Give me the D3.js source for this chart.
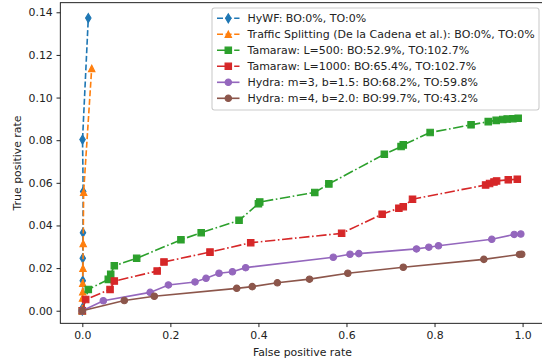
<!DOCTYPE html>
<html>
<head>
<meta charset="utf-8">
<script src="https://cdn.jsdelivr.net/npm/d3@7"></script>
<style>
  body { margin: 0; background: #fff; }
  svg { display: block; font-family: "DejaVu Sans", sans-serif; }
</style>
</head>
<body>
<svg id="chart" width="542" height="360"></svg>
<script>
// series values (x = false positive rate, y = true positive rate)
const hywfX = [0, 0.0005, 0.001, 0.001, 0.0015, 0.002, 0.0005, 0.0136];
const hywfY = [0, 0.0013, 0.0141, 0.0246, 0.0366, 0.0559, 0.0803, 0.1373];

const splitX = [0, 0.0005, 0.001, 0.001, 0.0015, 0.002, 0.003, 0.0213];
const splitY = [0, 0.0060, 0.0089, 0.0129, 0.0199, 0.0316, 0.0556, 0.1137];

const tam500X = [0, 0.0136, 0.059, 0.0645, 0.0727, 0.1235, 0.224, 0.27, 0.356, 0.40, 0.403, 0.528, 0.560, 0.686, 0.724, 0.729, 0.790, 0.883, 0.922, 0.94, 0.955, 0.965, 0.978, 0.99];
const tam500Y = [0, 0.0100, 0.0147, 0.0171, 0.0211, 0.0246, 0.0333, 0.0366, 0.0424, 0.0502, 0.0510, 0.0555, 0.0595, 0.0734, 0.0770, 0.0778, 0.0836, 0.0872, 0.0887, 0.0893, 0.0897, 0.0899, 0.0901, 0.0903];

const tam1000X = [0, 0.0077, 0.063, 0.0727, 0.170, 0.1855, 0.29, 0.3825, 0.589, 0.681, 0.719, 0.729, 0.750, 0.916, 0.925, 0.935, 0.941, 0.9675, 0.988];
const tam1000Y = [0, 0.0053, 0.0100, 0.0139, 0.0186, 0.0229, 0.0275, 0.0319, 0.0363, 0.0453, 0.0481, 0.0488, 0.0523, 0.0590, 0.0597, 0.0604, 0.0609, 0.0614, 0.0617];

const hydra3X = [0, 0.0477, 0.154, 0.1955, 0.256, 0.281, 0.3105, 0.341, 0.371, 0.570, 0.608, 0.628, 0.759, 0.787, 0.809, 0.930, 0.981, 0.996];
const hydra3Y = [0, 0.0047, 0.0086, 0.0121, 0.0135, 0.0152, 0.0176, 0.0183, 0.0202, 0.0251, 0.0265, 0.0268, 0.0290, 0.0298, 0.0305, 0.0335, 0.0358, 0.0360];

const hydra4X = [0, 0.0954, 0.1635, 0.3507, 0.386, 0.443, 0.516, 0.603, 0.729, 0.912, 0.993, 0.998];
const hydra4Y = [0, 0.0048, 0.0068, 0.0105, 0.0113, 0.0131, 0.0148, 0.0176, 0.0204, 0.0241, 0.0264, 0.0265];

const seriesNames = [
  "HyWF: BO:0%, TO:0%",
  "Traffic Splitting (De la Cadena et al.): BO:0%, TO:0%",
  "Tamaraw: L=500: BO:52.9%, TO:102.7%",
  "Tamaraw: L=1000: BO:65.4%, TO:102.7%",
  "Hydra: m=3, b=1.5: BO:68.2%, TO:59.8%",
  "Hydra: m=4, b=2.0: BO:99.7%, TO:43.2%"
];

const xTicks = [0.0, 0.2, 0.4, 0.6, 0.8, 1.0];
const yTicks = [0.00, 0.02, 0.04, 0.06, 0.08, 0.10, 0.12, 0.14];

// the figure looks like it was drawn at ~78 dpi, so 1pt ~ 1.08px
const pt = 1.08;
const fontSize = 10.9;

// styles for each series
const dashed = [3.7, 1.6].map(v => v * 1.5 * pt).join(",");
const dashDot = [6.4, 1.6, 1, 1.6].map(v => v * 1.5 * pt).join(",");
const styles = [
  { color: "#1f77b4", dash: dashed, marker: "thin_diamond" },
  { color: "#ff7f0e", dash: dashed, marker: "triangle" },
  { color: "#2ca02c", dash: dashDot, marker: "square" },
  { color: "#d62728", dash: dashDot, marker: "square" },
  { color: "#9467bd", dash: null, marker: "circle" },
  { color: "#8c564b", dash: null, marker: "circle" }
];

const allX = [hywfX, splitX, tam500X, tam1000X, hydra3X, hydra4X];
const allY = [hywfY, splitY, tam500Y, tam1000Y, hydra3Y, hydra4Y];

const svg = d3.select("#chart");

const plotLeft = 60.3, plotRight = 544.6, plotTop = 2.7, plotBottom = 323.3;

const x = d3.scaleLinear().domain([-0.05, 1.05]).range([plotLeft, plotRight]);
const y = d3.scaleLinear().domain([-0.0059, 0.1445]).range([plotBottom, plotTop]);

// marker paths (markersize 6pt)
function markerPath(kind) {
  const s = 6 * pt;
  if (kind === "square") {
    return `M${-s/2},${-s/2}H${s/2}V${s/2}H${-s/2}Z`;
  }
  if (kind === "triangle") {
    return `M0,${-s/2}L${s/2},${s/2}L${-s/2},${s/2}Z`;
  }
  if (kind === "thin_diamond") {
    const h = s * Math.SQRT2 / 2, w = h * 0.6;
    return `M0,${-h}L${w},0L0,${h}L${-w},0Z`;
  }
  return d3.symbol(d3.symbolCircle, Math.PI * (s / 2) * (s / 2))();
}

// axes
const tickLen = 3.5 * pt;
const xAxis = d3.axisBottom(x).tickValues(xTicks).tickFormat(d3.format(".1f")).tickSize(tickLen).tickPadding(tickLen);
const yAxis = d3.axisLeft(y).tickValues(yTicks).tickFormat(d3.format(".2f")).tickSize(tickLen).tickPadding(tickLen);

const gx = svg.append("g").attr("transform", `translate(0,${plotBottom})`).call(xAxis);
const gy = svg.append("g").attr("transform", `translate(${plotLeft},0)`).call(yAxis);

[gx, gy].forEach(g => {
  g.attr("font-family", "DejaVu Sans, sans-serif").attr("font-size", fontSize);
  g.select(".domain").remove();
  g.selectAll(".tick line").attr("stroke", "#000").attr("stroke-width", 0.8 * pt);
  g.selectAll(".tick text").attr("fill", "#222");
});

// series
const line = d3.line().x(d => x(d[0])).y(d => y(d[1]));

allX.forEach((xs, i) => {
  const pts = xs.map((v, j) => [v, allY[i][j]]);
  const st = styles[i];
  const g = svg.append("g");
  g.append("path")
    .attr("d", line(pts))
    .attr("fill", "none")
    .attr("stroke", st.color)
    .attr("stroke-width", 1.5 * pt)
    .attr("stroke-dasharray", st.dash);
  g.selectAll("path.m")
    .data(pts)
    .enter()
    .append("path")
    .attr("class", "m")
    .attr("d", markerPath(st.marker))
    .attr("transform", d => `translate(${x(d[0])},${y(d[1])})`)
    .attr("fill", st.color)
    .attr("stroke", st.color)
    .attr("stroke-width", pt);
});

// frame
svg.append("rect")
  .attr("x", plotLeft).attr("y", plotTop)
  .attr("width", plotRight - plotLeft).attr("height", plotBottom - plotTop)
  .attr("fill", "none").attr("stroke", "#000").attr("stroke-width", 0.8 * pt);

// axis labels
svg.append("text")
  .attr("x", (plotLeft + plotRight) / 2).attr("y", 356)
  .attr("text-anchor", "middle").attr("font-size", fontSize).attr("fill", "#222")
  .text("False positive rate");

svg.append("text")
  .attr("transform", `translate(21.2,${(plotTop + plotBottom) / 2}) rotate(-90)`)
  .attr("text-anchor", "middle").attr("font-size", fontSize).attr("fill", "#222")
  .text("True positive rate");

// legend
const lg = svg.append("g");
lg.append("rect")
  .attr("x", 212).attr("y", 8).attr("width", 327).attr("height", 102)
  .attr("rx", 2.5)
  .attr("fill", "#fff").attr("fill-opacity", 0.8)
  .attr("stroke", "#ccc").attr("stroke-width", pt);

seriesNames.forEach((name, i) => {
  const st = styles[i];
  const cy = 18.3 + i * 16;
  lg.append("line")
    .attr("x1", 217).attr("x2", 239.5).attr("y1", cy).attr("y2", cy)
    .attr("stroke", st.color).attr("stroke-width", 1.5 * pt)
    .attr("stroke-dasharray", st.dash);
  lg.append("path")
    .attr("d", markerPath(st.marker))
    .attr("transform", `translate(228.3,${cy})`)
    .attr("fill", st.color).attr("stroke", st.color).attr("stroke-width", pt);
  lg.append("text")
    .attr("x", 247.5).attr("y", cy + 3.9)
    .attr("font-size", 11).attr("fill", "#222")
    .text(name);
});
</script>
</body>
</html>
